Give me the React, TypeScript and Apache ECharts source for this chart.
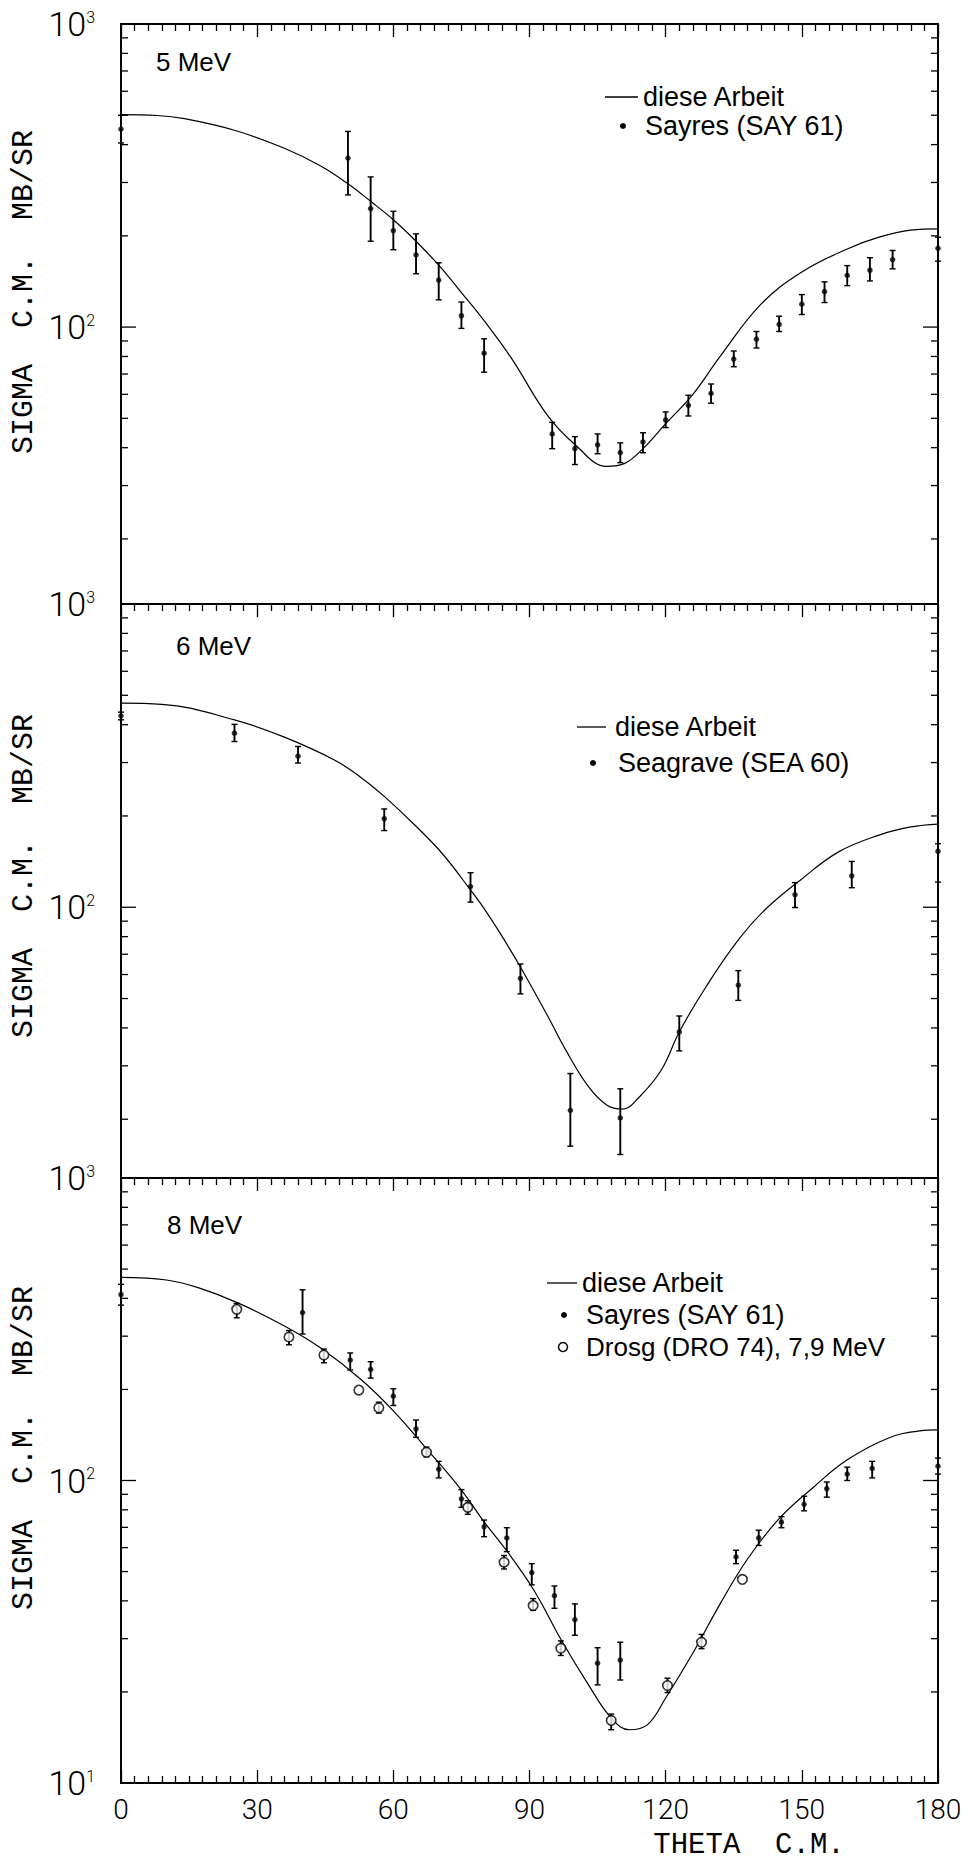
import React, { useEffect, useRef } from 'react';
import * as echarts from 'echarts';

// ---------- data (theta in degrees c.m., sigma in mb/sr) ----------
// 5 MeV
const theta5Fit = [0, 8, 14, 25, 36, 44, 50, 55, 60, 65, 70, 75, 80, 86, 94, 100, 107, 111, 115, 120, 126, 132, 141, 150, 160, 167, 174, 180];
const sigma5Fit = [502, 499, 487, 446, 389, 340, 297, 260, 226, 192, 160, 130, 105, 79, 51, 41, 34.7, 35.5, 39.7, 48, 60, 80, 119, 152, 181, 198, 209, 211];
const theta5Say = [0, 50, 55, 60, 65, 70, 75, 80, 95, 100, 105, 110, 115, 120, 125, 130, 135, 140, 145, 150, 155, 160, 165, 170, 180];
const sigma5Say = [450, 361, 246, 208, 173, 143, 109, 82, 44.4, 39.7, 40.9, 38.5, 41.8, 49.4, 55.2, 60.4, 78.4, 91.2, 102, 119, 131, 148, 154, 167, 182];
const lo5Say = [405, 273, 192, 180, 150, 123, 99, 71, 39.7, 35.2, 38.2, 35.7, 38.5, 46.6, 50.9, 56.1, 74, 85.3, 96.7, 110, 120.5, 137, 142, 155.6, 165];
const hi5Say = [500, 442, 313, 241, 203, 163, 121, 91.5, 48.5, 43.5, 44.4, 41.5, 44.8, 52.5, 59.6, 64.9, 83.4, 96.7, 108.6, 128, 141, 159.5, 169.4, 179, 198];

// 6 MeV
const theta6Fit = [0, 9, 25, 36, 47, 53, 58, 65, 71, 77, 80, 84, 88, 94, 98, 103, 107, 110.5, 114, 119, 123, 129, 136, 142, 150, 158, 167, 174, 180];
const sigma6Fit = [471, 467, 415, 364, 306, 267, 232, 185, 149, 114, 99, 80, 63.5, 43.8, 33.8, 25.6, 22.3, 21.6, 23.5, 29, 38.8, 55, 78, 98.5, 124, 152, 173, 184, 188];
const theta6Sea = [0, 25, 39, 58, 77, 88, 99, 110, 123, 136, 148.5, 161, 180];
const sigma6Sea = [428, 375, 315, 196, 117, 58.3, 21.4, 20.2, 38.8, 55.4, 110, 127, 153];
const lo6Sea = [415, 352, 299, 179, 104, 51.8, 16.3, 15.3, 33.6, 49.3, 99.8, 116, 121];
const hi6Sea = [440, 401, 339, 211, 130, 65, 28.3, 25.2, 43.8, 61.8, 120.6, 141.6, 162];

// 8 MeV
const theta8Fit = [0, 10, 17, 26, 36, 44, 53, 60, 67, 75, 80, 85, 91, 97, 103, 108, 112, 116, 120, 126, 132, 138, 145, 152.5, 160, 169, 176, 180];
const sigma8Fit = [469, 460, 434, 385, 324, 274, 215, 170, 129, 93, 73, 58.5, 43.3, 29.7, 21.1, 16.4, 15.0, 15.6, 19.1, 26.9, 39.1, 54.9, 74.8, 94.8, 117, 138, 146, 147];
const theta8Say = [0, 40, 50.5, 55, 60, 65, 70, 75, 80, 85, 90.5, 95.5, 100, 105, 110, 135.5, 140.5, 145.5, 150.5, 155.5, 160, 165.5, 180];
const sigma8Say = [412, 359, 250, 233, 190, 148, 109, 87, 70.3, 64.6, 49.6, 41.6, 34.7, 24.9, 25.5, 55.9, 64.6, 72.8, 83.4, 94, 105, 109.6, 111.5];
const lo8Say = [380, 305, 232, 218, 177, 139, 102, 81.5, 65.2, 58.2, 45.2, 37.8, 30.8, 21.1, 21.9, 53.1, 61, 69.8, 79.4, 88.1, 100, 102, 105];
const hi8Say = [445, 427, 264, 247, 201, 158.5, 115.7, 93.3, 74, 69.8, 53.1, 44.8, 39.1, 28, 29.2, 58.8, 68.5, 76, 88.7, 98.9, 110.7, 115.7, 118.6];
const theta8Dro = [25.5, 37, 44.7, 52.4, 56.8, 67.3, 76.4, 84.4, 90.8, 96.9, 108, 120.4, 127.9, 136.9];
const sigma8Dro = [368, 298, 260, 199, 174, 124, 81.5, 53.7, 38.6, 27.9, 16.1, 21, 29.2, 47.1];
const lo8Dro = [345, 281, 245, 199, 167, 119.7, 77.3, 51, 37.2, 26.4, 15, 19.9, 27.8, 47.1];
const hi8Dro = [385, 313, 272, 199, 181.5, 129, 85.7, 56.5, 40.7, 29.5, 16.9, 22.2, 31, 47.1];

// axis ticks
const yMinorTicks = [20, 30, 40, 50, 60, 70, 80, 90, 200, 300, 400, 500, 600, 700, 800, 900];
const yMajorTicks = [100];

// texts
const panelTitles = ['5 MeV', '6 MeV', '8 MeV'];
const fitName = 'diese Arbeit';
const sayName = 'Sayres (SAY 61)';
const seaName = 'Seagrave (SEA 60)';
const droName = 'Drosg (DRO 74), 7,9 MeV';
const yName = 'SIGMA  C.M.  MB/SR';
const xName = 'THETA  C.M.';

// ---------- layout ----------
const GRIDS = [
  { left: 121, top: 24, width: 817, height: 580 },
  { left: 121, top: 604, width: 817, height: 574 },
  { left: 121, top: 1178, width: 817, height: 605 },
];
const Y_MIN = [12.2, 12.8, 10];

const THIN = 'Roboto, "DejaVu Sans", sans-serif';
const MONO2 = '"Liberation Mono", monospace';
const SANS = '"Liberation Sans", Arial, sans-serif';

const zip = (a: number[], b: number[]) => a.map((v, i) => [v, b[i]]);
const zip4 = (a: number[], b: number[], c: number[], d: number[]) => a.map((v, i) => [v, b[i], c[i], d[i]]);

const tickData = [...yMinorTicks.map((v) => [0, v, 0]), ...yMajorTicks.map((v) => [0, v, 1])];

const tickRender = (params: any, api: any) => {
  const v = api.value(1);
  const major = api.value(2) === 1;
  const pt = api.coord([0, v]);
  const cs = params.coordSys;
  const len = major ? 15 : 7;
  const st = { stroke: '#000', lineWidth: 1.3 };
  return {
    type: 'group',
    children: [
      { type: 'line', shape: { x1: cs.x, y1: pt[1], x2: cs.x + len, y2: pt[1] }, style: st },
      { type: 'line', shape: { x1: cs.x + cs.width, y1: pt[1], x2: cs.x + cs.width - len, y2: pt[1] }, style: st },
    ],
  };
};

const errRender = (params: any, api: any) => {
  const x = api.value(0);
  const lo = api.value(2);
  const hi = api.value(3);
  if (!(hi > lo)) return { type: 'group', children: [] };
  const pl = api.coord([x, lo]);
  const ph = api.coord([x, hi]);
  const st = { stroke: '#000', lineWidth: 1.9 };
  const c = 3;
  return {
    type: 'group',
    children: [
      { type: 'line', shape: { x1: pl[0], y1: pl[1], x2: ph[0], y2: ph[1] }, style: st },
      { type: 'line', shape: { x1: pl[0] - c, y1: pl[1], x2: pl[0] + c, y2: pl[1] }, style: { stroke: '#000', lineWidth: 1.4 } },
      { type: 'line', shape: { x1: ph[0] - c, y1: ph[1], x2: ph[0] + c, y2: ph[1] }, style: { stroke: '#000', lineWidth: 1.4 } },
    ],
  };
};

const powFmt = (v: number) => {
  const e = Math.log10(v);
  const r = Math.round(e);
  if (Math.abs(e - r) > 1e-6) return '';
  return `{b|10}{s|${r}}`;
};

function buildOption() {
  const grid = GRIDS.map((g) => ({ ...g, show: true, borderColor: '#000', borderWidth: 2, backgroundColor: 'transparent' }));
  const tickStyle = { color: '#000', width: 1.3 };
  const xAxis: any[] = [];
  GRIDS.forEach((_, i) => {
    const isLast = i === 2;
    xAxis.push({
      gridIndex: i,
      type: 'value',
      min: 0,
      max: 180,
      interval: 30,
      position: 'bottom',
      axisLine: { show: false },
      axisTick: { show: isLast, inside: true, length: 13, lineStyle: tickStyle },
      minorTick: { show: isLast, splitNumber: 10, length: 7, lineStyle: tickStyle },
      splitLine: { show: false },
      minorSplitLine: { show: false },
      axisLabel: { show: isLast, margin: 12, fontFamily: THIN, fontWeight: 300, fontSize: 28, color: '#000', lineHeight: 28 },
    });
    xAxis.push({
      gridIndex: i,
      type: 'value',
      min: 0,
      max: 180,
      interval: 30,
      position: 'top',
      axisLine: { show: false },
      axisTick: { show: true, inside: true, length: 13, lineStyle: tickStyle },
      minorTick: { show: true, splitNumber: 10, length: 7, lineStyle: tickStyle },
      splitLine: { show: false },
      minorSplitLine: { show: false },
      axisLabel: { show: false },
    });
  });
  const yAxis = GRIDS.map((_, i) => ({
    gridIndex: i,
    type: 'log',
    logBase: 10,
    min: Y_MIN[i],
    max: 1000,
    axisLine: { show: false },
    axisTick: { show: false },
    minorTick: { show: false },
    splitLine: { show: false },
    axisLabel: {
      margin: 26,
      formatter: powFmt,
      rich: {
        b: { fontFamily: THIN, fontWeight: 300, fontSize: 34, lineHeight: 30, color: '#000' },
        s: { fontFamily: THIN, fontWeight: 300, fontSize: 16, lineHeight: 16, verticalAlign: 'top', color: '#000' },
      },
    },
  }));

  const fits = [
    zip(theta5Fit, sigma5Fit),
    zip(theta6Fit, sigma6Fit),
    zip(theta8Fit, sigma8Fit),
  ];
  const filled = [
    { pts: zip(theta5Say, sigma5Say), err: zip4(theta5Say, sigma5Say, lo5Say, hi5Say), name: sayName },
    { pts: zip(theta6Sea, sigma6Sea), err: zip4(theta6Sea, sigma6Sea, lo6Sea, hi6Sea), name: seaName },
    { pts: zip(theta8Say, sigma8Say), err: zip4(theta8Say, sigma8Say, lo8Say, hi8Say), name: sayName },
  ];

  const series: any[] = [];
  GRIDS.forEach((_, i) => {
    const xi = 2 * i;
    series.push({
      type: 'custom',
      name: 'ticks' + i,
      xAxisIndex: xi,
      yAxisIndex: i,
      data: tickData,
      renderItem: tickRender,
      encode: { x: 0, y: 1 },
      silent: true,
      clip: false,
      z: 4,
    });
    series.push({
      type: 'line',
      name: fitName + ' ' + panelTitles[i],
      xAxisIndex: xi,
      yAxisIndex: i,
      data: fits[i],
      showSymbol: false,
      smooth: 0.4,
      lineStyle: { color: '#000', width: 1.2 },
      z: 2,
    });
    series.push({
      type: 'custom',
      name: filled[i].name + ' err ' + i,
      xAxisIndex: xi,
      yAxisIndex: i,
      data: filled[i].err,
      renderItem: errRender,
      encode: { x: 0, y: 1 },
      silent: true,
      z: 3,
    });
    series.push({
      type: 'scatter',
      name: filled[i].name + ' ' + panelTitles[i],
      xAxisIndex: xi,
      yAxisIndex: i,
      data: filled[i].pts,
      symbol: 'circle',
      symbolSize: 5.5,
      itemStyle: { color: '#000' },
      z: 5,
    });
  });
  series.push({
    type: 'custom',
    name: droName + ' err',
    xAxisIndex: 4,
    yAxisIndex: 2,
    data: zip4(theta8Dro, sigma8Dro, lo8Dro, hi8Dro),
    renderItem: errRender,
    encode: { x: 0, y: 1 },
    silent: true,
    z: 3,
  });
  series.push({
    type: 'scatter',
    name: droName,
    xAxisIndex: 4,
    yAxisIndex: 2,
    data: zip(theta8Dro, sigma8Dro),
    symbol: 'circle',
    symbolSize: 9.5,
    itemStyle: { color: '#fff', borderColor: '#000', borderWidth: 1.6 },
    z: 6,
  });

  const txt = (text: string, x: number, y: number, size = 27, family = SANS) => ({
    type: 'text',
    x,
    y,
    style: { text, fontFamily: family, fontSize: size, fill: '#000', align: 'left', verticalAlign: 'middle' },
    z: 10,
  });
  const lg = (x1: number, x2: number, y: number) => ({
    type: 'line',
    shape: { x1, y1: y, x2, y2: y },
    style: { stroke: '#000', lineWidth: 1.3 },
    z: 10,
  });
  const dot = (cx: number, cy: number) => ({ type: 'circle', shape: { cx, cy, r: 3 }, style: { fill: '#000' }, z: 10 });
  const ring = (cx: number, cy: number) => ({
    type: 'circle',
    shape: { cx, cy, r: 4.5 },
    style: { fill: '#fff', stroke: '#000', lineWidth: 1.5 },
    z: 10,
  });
  const yLab = (y: number) => ({
    type: 'text',
    x: 24,
    y,
    rotation: Math.PI / 2,
    style: { text: yName, fontFamily: MONO2, fontSize: 30, fill: '#000', align: 'center', verticalAlign: 'middle' },
    z: 10,
  });

  const graphic = [
    txt(panelTitles[0], 156, 62, 26),
    txt(panelTitles[1], 176, 646, 26),
    txt(panelTitles[2], 167, 1225, 26),
    lg(605, 638, 97),
    txt(fitName, 643, 97),
    dot(623, 126),
    txt(sayName, 645, 126),
    lg(577, 606, 727),
    txt(fitName, 615, 727),
    dot(593, 763),
    txt(seaName, 618, 763),
    lg(547, 577, 1283),
    txt(fitName, 582, 1283),
    dot(564, 1315),
    txt(sayName, 586, 1315),
    ring(563, 1347),
    txt(droName, 586, 1347, 26),
    yLab(292),
    yLab(876),
    yLab(1448),
    {
      type: 'text',
      x: 749,
      y: 1845,
      style: { text: xName, fontFamily: MONO2, fontSize: 29, fill: '#000', align: 'center', verticalAlign: 'middle' },
      z: 10,
    },
  ];

  return {
    animation: false,
    backgroundColor: '#fff',
    grid,
    xAxis,
    yAxis,
    series,
    graphic,
  };
}

export default function App() {
  const ref = useRef<HTMLDivElement>(null);
  useEffect(() => {
    if (!ref.current) return;
    const chart = echarts.init(ref.current, undefined, { renderer: 'svg' });
    chart.setOption(buildOption() as any);
    return () => chart.dispose();
  }, []);
  return (
    <div
      ref={ref}
      style={{ position: 'absolute', left: 0, top: 0, width: 973, height: 1863, background: '#fff' }}
    />
  );
}
